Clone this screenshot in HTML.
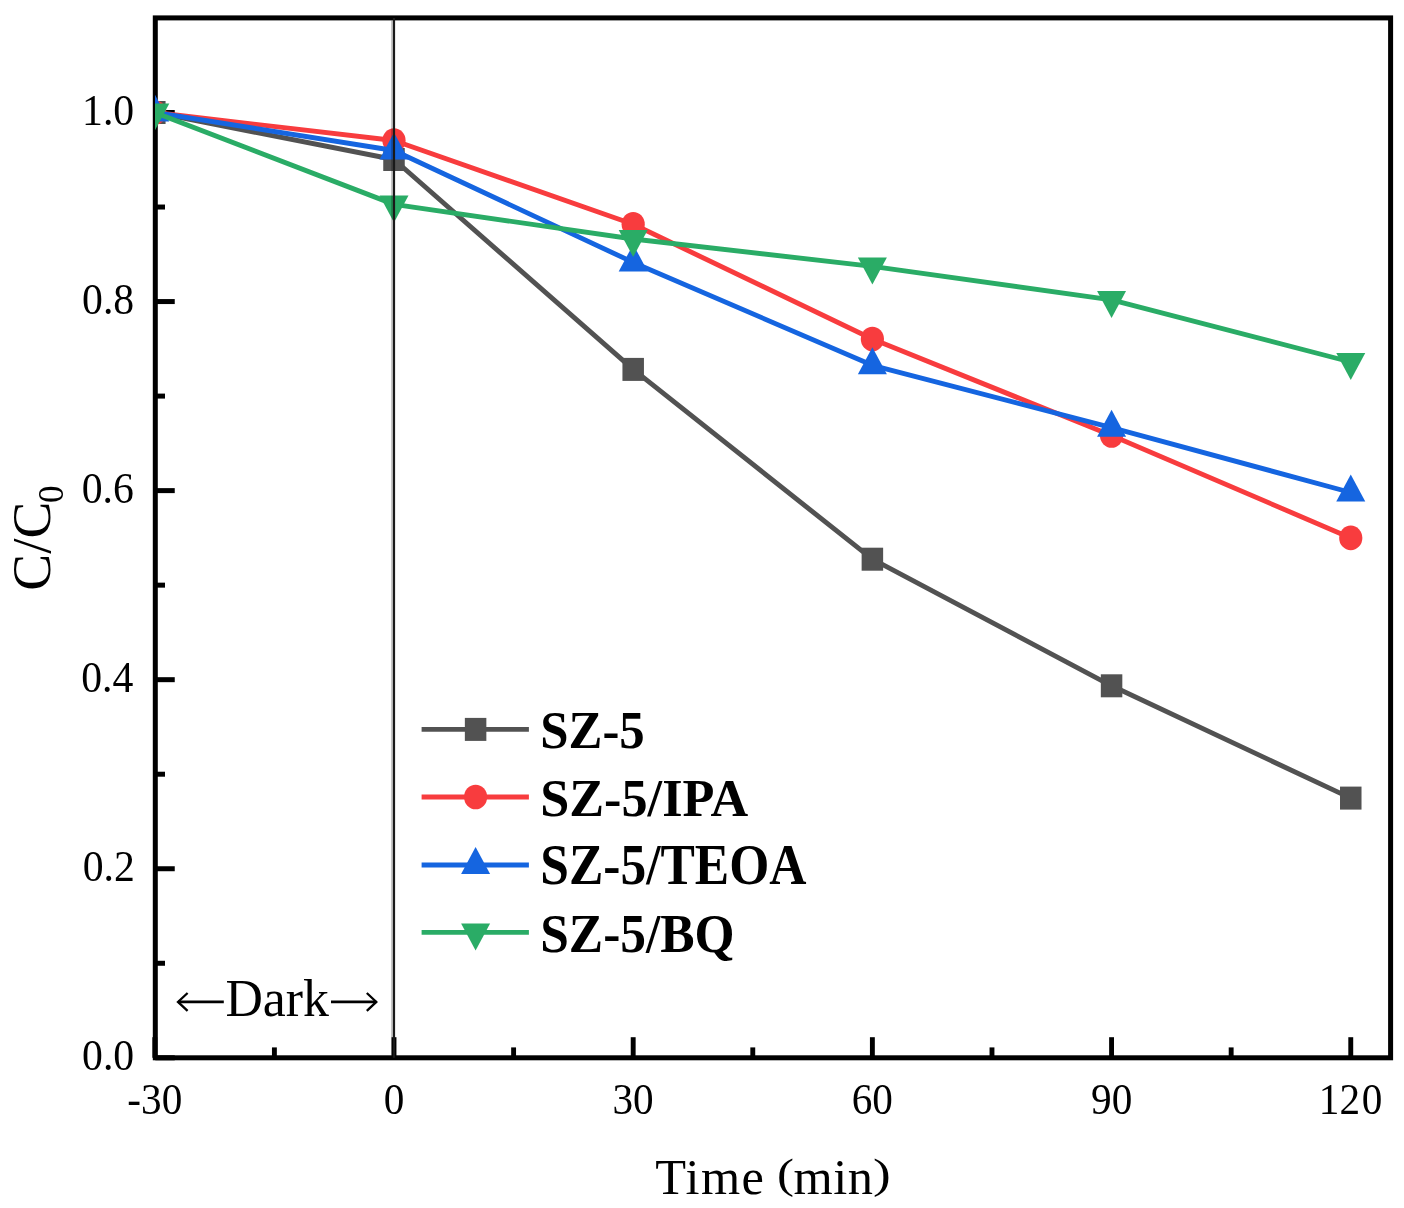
<!DOCTYPE html>
<html><head><meta charset="utf-8"><style>
html,body{margin:0;padding:0;background:#fff;overflow:hidden;}
svg{display:block;will-change:transform;}
text{font-family:"Liberation Serif",serif;}
</style></head><body>
<svg width="1404" height="1208" viewBox="0 0 1404 1208">
<rect width="1404" height="1208" fill="#fff"/>
<rect x="155.3" y="17.9" width="1235.3" height="1039.8999999999999" fill="none" stroke="#000" stroke-width="5.0"/>
<line x1="154.81" y1="1057.8" x2="154.81" y2="1037.20" stroke="#000" stroke-width="4.9"/>
<line x1="274.40" y1="1057.8" x2="274.40" y2="1047.40" stroke="#000" stroke-width="4.9"/>
<line x1="394.00" y1="1057.8" x2="394.00" y2="1037.20" stroke="#000" stroke-width="4.9"/>
<line x1="513.60" y1="1057.8" x2="513.60" y2="1047.40" stroke="#000" stroke-width="4.9"/>
<line x1="633.19" y1="1057.8" x2="633.19" y2="1037.20" stroke="#000" stroke-width="4.9"/>
<line x1="752.78" y1="1057.8" x2="752.78" y2="1047.40" stroke="#000" stroke-width="4.9"/>
<line x1="872.38" y1="1057.8" x2="872.38" y2="1037.20" stroke="#000" stroke-width="4.9"/>
<line x1="991.98" y1="1057.8" x2="991.98" y2="1047.40" stroke="#000" stroke-width="4.9"/>
<line x1="1111.57" y1="1057.8" x2="1111.57" y2="1037.20" stroke="#000" stroke-width="4.9"/>
<line x1="1231.16" y1="1057.8" x2="1231.16" y2="1047.40" stroke="#000" stroke-width="4.9"/>
<line x1="1350.76" y1="1057.8" x2="1350.76" y2="1037.20" stroke="#000" stroke-width="4.9"/>
<line x1="155.3" y1="1057.80" x2="174.75" y2="1057.80" stroke="#000" stroke-width="5.0"/>
<line x1="155.3" y1="963.27" x2="165.00" y2="963.27" stroke="#000" stroke-width="5.0"/>
<line x1="155.3" y1="868.74" x2="174.75" y2="868.74" stroke="#000" stroke-width="5.0"/>
<line x1="155.3" y1="774.21" x2="165.00" y2="774.21" stroke="#000" stroke-width="5.0"/>
<line x1="155.3" y1="679.68" x2="174.75" y2="679.68" stroke="#000" stroke-width="5.0"/>
<line x1="155.3" y1="585.15" x2="165.00" y2="585.15" stroke="#000" stroke-width="5.0"/>
<line x1="155.3" y1="490.62" x2="174.75" y2="490.62" stroke="#000" stroke-width="5.0"/>
<line x1="155.3" y1="396.09" x2="165.00" y2="396.09" stroke="#000" stroke-width="5.0"/>
<line x1="155.3" y1="301.56" x2="174.75" y2="301.56" stroke="#000" stroke-width="5.0"/>
<line x1="155.3" y1="207.03" x2="165.00" y2="207.03" stroke="#000" stroke-width="5.0"/>
<line x1="155.3" y1="112.50" x2="174.75" y2="112.50" stroke="#000" stroke-width="5.0"/>
<defs><clipPath id="pa"><rect x="155.0" y="17.9" width="1235.6" height="1039.8999999999999"/></clipPath></defs>
<g clip-path="url(#pa)">
<polyline points="154.81,112.50 394.00,159.50 633.19,369.40 872.38,559.20 1111.57,685.80 1350.76,798.10" fill="none" stroke="#525252" stroke-width="4.9" stroke-linejoin="round"/>
<rect x="144.06" y="101.00" width="21.5" height="23.0" fill="#525252"/>
<rect x="383.25" y="148.00" width="21.5" height="23.0" fill="#525252"/>
<rect x="622.44" y="357.90" width="21.5" height="23.0" fill="#525252"/>
<rect x="861.63" y="547.70" width="21.5" height="23.0" fill="#525252"/>
<rect x="1100.82" y="674.30" width="21.5" height="23.0" fill="#525252"/>
<rect x="1340.01" y="786.60" width="21.5" height="23.0" fill="#525252"/>
<polyline points="154.81,112.50 394.00,140.50 633.19,224.30 872.38,339.00 1111.57,435.50 1350.76,537.90" fill="none" stroke="#f83c3e" stroke-width="4.9" stroke-linejoin="round"/>
<ellipse cx="154.81" cy="112.50" rx="11.6" ry="12.3" fill="#f83c3e"/>
<ellipse cx="394.00" cy="140.50" rx="11.6" ry="12.3" fill="#f83c3e"/>
<ellipse cx="633.19" cy="224.30" rx="11.6" ry="12.3" fill="#f83c3e"/>
<ellipse cx="872.38" cy="339.00" rx="11.6" ry="12.3" fill="#f83c3e"/>
<ellipse cx="1111.57" cy="435.50" rx="11.6" ry="12.3" fill="#f83c3e"/>
<ellipse cx="1350.76" cy="537.90" rx="11.6" ry="12.3" fill="#f83c3e"/>
<polyline points="154.81,112.50 394.00,150.50 633.19,262.40 872.38,365.30 1111.57,427.70 1350.76,492.50" fill="none" stroke="#1565e0" stroke-width="4.9" stroke-linejoin="round"/>
<path d="M154.81 94.50L169.31 121.50L140.31 121.50Z" fill="#1565e0"/>
<path d="M394.00 132.50L408.50 159.50L379.50 159.50Z" fill="#1565e0"/>
<path d="M633.19 244.40L647.69 271.40L618.69 271.40Z" fill="#1565e0"/>
<path d="M872.38 347.30L886.88 374.30L857.88 374.30Z" fill="#1565e0"/>
<path d="M1111.57 409.70L1126.07 436.70L1097.07 436.70Z" fill="#1565e0"/>
<path d="M1350.76 474.50L1365.26 501.50L1336.26 501.50Z" fill="#1565e0"/>
<polyline points="154.81,112.50 394.00,204.40 633.19,239.00 872.38,266.40 1111.57,299.90 1350.76,362.00" fill="none" stroke="#2aac66" stroke-width="4.9" stroke-linejoin="round"/>
<path d="M140.31 103.50L169.31 103.50L154.81 130.50Z" fill="#2aac66"/>
<path d="M379.50 195.40L408.50 195.40L394.00 222.40Z" fill="#2aac66"/>
<path d="M618.69 230.00L647.69 230.00L633.19 257.00Z" fill="#2aac66"/>
<path d="M857.88 257.40L886.88 257.40L872.38 284.40Z" fill="#2aac66"/>
<path d="M1097.07 290.90L1126.07 290.90L1111.57 317.90Z" fill="#2aac66"/>
<path d="M1336.26 353.00L1365.26 353.00L1350.76 380.00Z" fill="#2aac66"/>
</g>
<line x1="392.0" y1="20.5" x2="392.0" y2="1055.2" stroke="#000" stroke-opacity="0.23" stroke-width="1.9"/>
<line x1="394.0" y1="17.9" x2="394.0" y2="1057.8" stroke="#1a1a1a" stroke-width="2.2"/>
<text transform="translate(82.06 1070.00) scale(1 1.0540)" font-family="Liberation Serif" font-size="41.70">0.0</text>
<text transform="translate(82.77 880.94) scale(1 1.0540)" font-family="Liberation Serif" font-size="41.70">0.2</text>
<text transform="translate(81.14 691.88) scale(1 1.0540)" font-family="Liberation Serif" font-size="41.70">0.4</text>
<text transform="translate(81.73 502.82) scale(1 1.0540)" font-family="Liberation Serif" font-size="41.70">0.6</text>
<text transform="translate(82.06 313.76) scale(1 1.0540)" font-family="Liberation Serif" font-size="41.70">0.8</text>
<text transform="translate(82.06 124.70) scale(1 1.0540)" font-family="Liberation Serif" font-size="41.70">1.0</text>
<text transform="translate(127.37 1113.55) scale(1 1.0970)" font-family="Liberation Serif" font-size="41.20">-30</text>
<text transform="translate(383.70 1113.55) scale(1 1.0970)" font-family="Liberation Serif" font-size="41.20">0</text>
<text transform="translate(612.38 1113.55) scale(1 1.0970)" font-family="Liberation Serif" font-size="41.20">30</text>
<text transform="translate(851.68 1113.55) scale(1 1.0970)" font-family="Liberation Serif" font-size="41.20">60</text>
<text transform="translate(1091.09 1113.55) scale(1 1.0970)" font-family="Liberation Serif" font-size="41.20">90</text>
<text transform="translate(1318.83 1113.55) scale(1 1.0970)" font-family="Liberation Serif" font-size="41.20">12<tspan dx="1.8">0</tspan></text>
<text transform="translate(655.29 1193.50) scale(1 1.0000)" font-family="Liberation Serif" font-size="50.40" letter-spacing="1.3">Time</text>
<text transform="translate(793.54 1193.50) scale(1 1.0000)" font-family="Liberation Serif" font-size="50.40" letter-spacing="0.55">min</text>
<text transform="translate(776.96 1188.28) scale(1 0.8306)" font-family="Liberation Serif" font-size="50.97">(</text>
<text transform="translate(872.99 1188.28) scale(1 0.7942)" font-family="Liberation Serif" font-size="53.31">)</text>
<text transform="translate(49.6 590.7) rotate(-90)" font-family="Liberation Serif" font-size="55.3">C/C<tspan font-size="35" dx="-1.5" dy="13.0">0</tspan></text>
<line x1="421.6" y1="729.4" x2="528.9" y2="729.4" stroke="#525252" stroke-width="4.9"/>
<rect x="464.85" y="717.90" width="21.5" height="23.0" fill="#525252"/>
<text transform="translate(540.31 748.10) scale(1 1.0434)" font-family="Liberation Serif" font-weight="bold" font-size="50.81">SZ-5</text>
<line x1="421.6" y1="797.0" x2="528.9" y2="797.0" stroke="#f83c3e" stroke-width="4.9"/>
<ellipse cx="475.60" cy="797.00" rx="11.6" ry="12.3" fill="#f83c3e"/>
<text transform="translate(540.23 816.10) scale(1 1.0293)" font-family="Liberation Serif" font-weight="bold" font-size="52.24">SZ-5/IPA</text>
<line x1="421.6" y1="865.0" x2="528.9" y2="865.0" stroke="#1565e0" stroke-width="4.9"/>
<path d="M475.60 847.00L490.10 874.00L461.10 874.00Z" fill="#1565e0"/>
<text transform="translate(540.27 884.00) scale(1 1.0968)" font-family="Liberation Serif" font-weight="bold" font-size="51.51">SZ-5/TEOA</text>
<line x1="421.6" y1="932.4" x2="528.9" y2="932.4" stroke="#2aac66" stroke-width="4.9"/>
<path d="M461.10 923.40L490.10 923.40L475.60 950.40Z" fill="#2aac66"/>
<text transform="translate(540.27 952.00) scale(1 1.0719)" font-family="Liberation Serif" font-weight="bold" font-size="51.44">SZ-5/BQ</text>
<text transform="translate(225.40 1015.50) scale(1 1.0380)" font-family="Liberation Serif" font-size="51.78">Dark</text>
<g stroke="#000" fill="none"><line x1="178" y1="1001.9" x2="223.8" y2="1001.9" stroke-width="2.6"/><polyline points="187.6,993.0 178.0,1001.9 187.6,1010.8" stroke-width="2.3" stroke-linejoin="miter"/><line x1="331" y1="1001.9" x2="376.3" y2="1001.9" stroke-width="2.6"/><polyline points="366.8,993.0 376.3,1001.9 366.8,1010.8" stroke-width="2.3" stroke-linejoin="miter"/></g>
</svg></body></html>
